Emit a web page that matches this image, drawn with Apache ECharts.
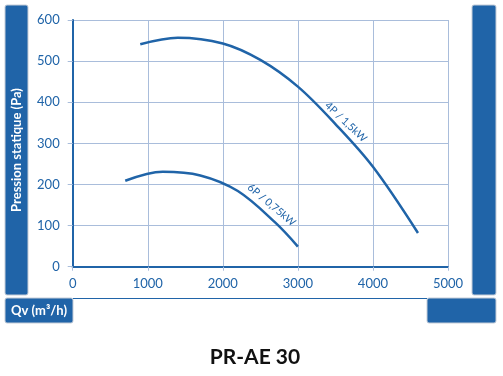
<!DOCTYPE html>
<html>
<head>
<meta charset="utf-8">
<script src="https://cdn.jsdelivr.net/npm/echarts@6/dist/echarts.min.js"></script>
<style>
  html, body { margin: 0; padding: 0; background: #fff; }
  #main { width: 503px; height: 376px; }
</style>
</head>
<body>
<div id="main"></div>
<script>
// data
var flowTicks = [0, 1000, 2000, 3000, 4000, 5000];
var pressureTicks = [0, 100, 200, 300, 400, 500, 600];
var curve4P = [[900, 541], [1400, 557], [2000, 543], [2500, 503], [3000, 438], [3500, 347], [4000, 243], [4600, 82]];
var curve6P = [[700, 209], [1200, 231], [1700, 222], [2200, 184], [2700, 107], [3000, 49]];
var name4P = "4P / 1,5kW";
var name6P = "6P / 0,75kW";
var label4Pat = [3640, 352];
var label6Pat = [2650, 150];

var blue = "#2064a8";
var gridBlue = "#a9bddb";
var font = "Lato";

var chartDom = document.getElementById("main");
var myChart = echarts.init(chartDom);

function curveLabel(text, at, rot) {
  return {
    symbol: "circle",
    symbolSize: 1,
    itemStyle: { color: "rgba(0,0,0,0)" },
    data: [{
      coord: at,
      label: {
        show: true,
        formatter: text,
        position: "inside",
        rotate: rot,
        color: blue,
        fontSize: 10.5,
        fontFamily: font
      }
    }]
  };
}

var option = {
  animation: false,
  grid: { left: 72.7, right: 55, top: 20, bottom: 109.3, containLabel: false },
  xAxis: {
    type: "value",
    min: flowTicks[0],
    max: flowTicks[flowTicks.length - 1],
    interval: 1000,
    axisLine: { show: true, lineStyle: { color: blue, width: 2 } },
    axisTick: { show: true, length: 4, lineStyle: { color: gridBlue } },
    axisLabel: { color: blue, fontSize: 13, fontFamily: font, margin: 11,
                 formatter: function (v) { return String(v); } },
    splitLine: { show: true, lineStyle: { color: gridBlue, width: 1 } }
  },
  yAxis: {
    type: "value",
    min: pressureTicks[0],
    max: pressureTicks[pressureTicks.length - 1],
    interval: 100,
    axisLine: { show: true, lineStyle: { color: blue, width: 2 } },
    axisTick: { show: true, length: 5, lineStyle: { color: gridBlue } },
    axisLabel: { color: blue, fontSize: 13, fontFamily: font, margin: 13 },
    splitLine: { show: true, lineStyle: { color: gridBlue, width: 1 } }
  },
  series: [
    {
      name: name4P,
      type: "line",
      data: curve4P,
      smooth: 0.35,
      showSymbol: false,
      lineStyle: { color: blue, width: 2.5 },
      markPoint: curveLabel(name4P, label4Pat, -43)
    },
    {
      name: name6P,
      type: "line",
      data: curve6P,
      smooth: 0.35,
      showSymbol: false,
      lineStyle: { color: blue, width: 2.5 },
      markPoint: curveLabel(name6P, label6Pat, -40)
    }
  ],
  graphic: [
    // left bar with y title
    { type: "rect", shape: { x: 5, y: 5, width: 23, height: 290, r: 2 },
      style: { fill: blue, stroke: "#c5cdd8", lineWidth: 1 } },
    { type: "text", x: 17, y: 150, rotation: Math.PI / 2,
      style: { text: "Pression statique (Pa)", fill: "#fff", font: "bold 13px " + font,
               align: "center", verticalAlign: "middle" } },
    // right bar
    { type: "rect", shape: { x: 472, y: 5, width: 24, height: 290, r: 2 },
      style: { fill: blue, stroke: "#c5cdd8", lineWidth: 1 } },
    // x title box
    { type: "rect", shape: { x: 5, y: 298, width: 68, height: 25, r: 2 },
      style: { fill: blue, stroke: "#c5cdd8", lineWidth: 1 } },
    { type: "text", x: 39, y: 311,
      style: { text: "Qv (m³/h)", fill: "#fff", font: "bold 13px " + font,
               align: "center", verticalAlign: "middle" } },
    // bottom right box
    { type: "rect", shape: { x: 427, y: 298, width: 69, height: 25, r: 2 },
      style: { fill: blue, stroke: "#c5cdd8", lineWidth: 1 } },
    // thin line between boxes
    { type: "line", shape: { x1: 73, y1: 298.5, x2: 427, y2: 298.5 },
      style: { stroke: blue, lineWidth: 1 } },
    // model name
    { type: "text", x: 255, y: 357,
      style: { text: "PR-AE 30", fill: "#111", font: "bold 21px " + font,
               align: "center", verticalAlign: "middle" } }
  ]
};

myChart.setOption(option);
</script>
</body>
</html>
